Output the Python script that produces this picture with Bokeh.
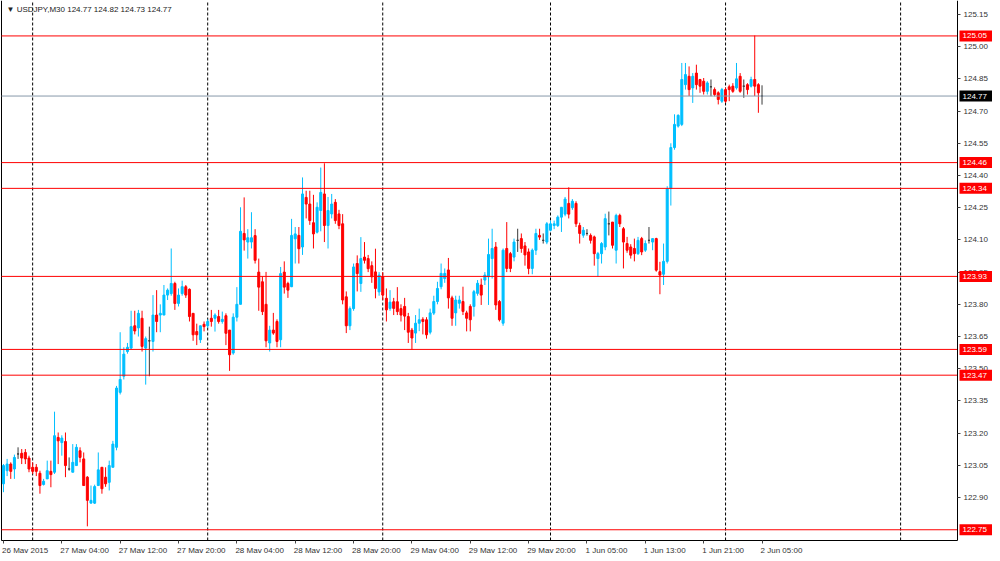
from bokeh.plotting import figure
from bokeh.models import (Range1d, LinearAxis, FixedTicker, NumeralTickFormatter,
                          ColumnDataSource)
from bokeh.core.properties import value
from bokeh.embed import file_html
from bokeh.resources import INLINE

# ---------------- data (USDJPY, M30) ----------------
opens = [
    122.964, 123.025, 123.056, 123.033, 123.103, 123.106, 123.110, 123.084, 123.041, 123.041,
    123.013, 122.961, 122.987, 123.022, 123.018, 123.180, 123.156, 123.161, 123.033, 123.018,
    123.049, 123.118, 123.080, 122.995, 122.874, 122.874, 122.956, 123.041, 122.995, 122.971,
    123.041, 123.134, 123.390, 123.465, 123.580, 123.596, 123.700, 123.690, 123.735, 123.596,
    123.630, 123.627, 123.750, 123.750, 123.750, 123.843, 123.850, 123.897, 123.804, 123.850,
    123.882, 123.870, 123.758, 123.673, 123.635, 123.707, 123.700, 123.735, 123.735, 123.743,
    123.720, 123.747, 123.680, 123.573, 123.740, 123.800, 124.130, 124.090, 124.090, 124.120,
    123.950, 123.905, 123.800, 123.620, 123.680, 123.720, 123.635, 123.950, 123.897, 123.882,
    124.105, 124.121, 124.067, 124.298, 124.267, 124.180, 124.136, 124.237, 124.314, 124.167,
    124.221, 124.275, 124.221, 124.175, 123.835, 123.700, 123.780, 123.990, 123.897, 124.020,
    124.013, 123.980, 123.951, 123.858, 123.928, 123.828, 123.781, 123.812, 123.812, 123.780,
    123.790, 123.743, 123.680, 123.666, 123.712, 123.730, 123.728, 123.670, 123.759, 123.813,
    123.882, 123.920, 123.960, 123.830, 123.760, 123.805, 123.813, 123.760, 123.790, 123.790,
    123.851, 123.890, 123.913, 123.928, 124.013, 124.067, 123.813, 123.712, 124.060, 124.036,
    124.020, 124.098, 124.106, 124.072, 124.044, 123.967, 124.052, 124.121, 124.098, 124.090,
    124.145, 124.167, 124.167, 124.206, 124.220, 124.270, 124.250, 124.270, 124.167, 124.122,
    124.130, 124.121, 124.114, 124.013, 124.036, 124.067, 124.175, 124.183, 124.052, 124.214,
    124.152, 124.083, 124.067, 124.060, 124.036, 124.106, 124.052, 124.098, 124.090, 124.106,
    123.952, 123.940, 124.000, 124.340, 124.530, 124.630, 124.638, 124.823, 124.862, 124.808,
    124.877, 124.847, 124.839, 124.792, 124.813, 124.800, 124.785, 124.746, 124.800, 124.813,
    124.816, 124.808, 124.862, 124.816, 124.823, 124.816, 124.847, 124.823, 124.770,
]
highs = [
    123.056, 123.080, 123.064, 123.100, 123.134, 123.126, 123.126, 123.095, 123.064, 123.056,
    123.025, 122.987, 123.072, 123.072, 123.300, 123.203, 123.190, 123.203, 123.087, 123.149,
    123.149, 123.134, 123.110, 123.000, 122.956, 122.960, 123.110, 123.041, 123.041, 123.072,
    123.164, 123.420, 123.670, 123.600, 123.620, 123.770, 123.770, 123.774, 123.770, 123.650,
    123.696, 123.843, 123.866, 123.800, 123.890, 123.874, 124.060, 123.905, 123.874, 123.910,
    123.890, 123.874, 123.758, 123.710, 123.700, 123.720, 123.730, 123.774, 123.758, 123.774,
    123.766, 123.758, 123.680, 123.758, 123.880, 124.252, 124.298, 124.150, 124.229, 124.150,
    124.013, 123.930, 123.951, 123.700, 123.760, 123.730, 123.974, 124.000, 123.905, 124.198,
    124.160, 124.160, 124.391, 124.329, 124.329, 124.310, 124.275, 124.437, 124.457, 124.300,
    124.314, 124.290, 124.240, 124.220, 123.860, 123.790, 123.990, 124.028, 124.113, 124.090,
    124.030, 124.000, 124.059, 123.950, 123.950, 123.874, 123.866, 123.830, 123.880, 123.800,
    123.830, 123.760, 123.690, 123.750, 123.780, 123.740, 123.740, 123.780, 123.840, 123.905,
    123.990, 123.967, 124.016, 123.840, 123.840, 123.840, 123.882, 123.770, 123.800, 123.867,
    123.913, 123.920, 123.950, 124.106, 124.152, 124.090, 123.820, 124.060, 124.183, 124.044,
    124.106, 124.152, 124.130, 124.090, 124.060, 124.060, 124.152, 124.152, 124.130, 124.183,
    124.190, 124.190, 124.214, 124.252, 124.300, 124.345, 124.290, 124.280, 124.180, 124.160,
    124.150, 124.130, 124.120, 124.044, 124.090, 124.222, 124.232, 124.183, 124.222, 124.222,
    124.160, 124.114, 124.080, 124.106, 124.114, 124.114, 124.098, 124.160, 124.106, 124.110,
    123.998, 124.083, 124.350, 124.550, 124.685, 124.685, 124.924, 124.924, 124.908, 124.877,
    124.916, 124.850, 124.854, 124.839, 124.847, 124.810, 124.792, 124.808, 124.810, 124.823,
    124.830, 124.924, 124.877, 124.847, 124.830, 124.860, 125.052, 124.830, 124.820,
]
lows = [
    122.925, 123.000, 122.987, 122.987, 123.080, 123.056, 123.056, 123.018, 123.010, 123.000,
    122.918, 122.956, 122.987, 122.948, 123.010, 123.056, 123.095, 122.995, 123.025, 123.018,
    123.049, 123.064, 122.956, 122.766, 122.874, 122.870, 122.956, 122.918, 122.950, 122.933,
    123.041, 123.120, 123.380, 123.450, 123.570, 123.590, 123.660, 123.650, 123.580, 123.426,
    123.465, 123.580, 123.670, 123.670, 123.750, 123.820, 123.840, 123.774, 123.790, 123.840,
    123.830, 123.720, 123.630, 123.610, 123.620, 123.674, 123.690, 123.696, 123.673, 123.710,
    123.710, 123.610, 123.490, 123.565, 123.720, 123.800, 124.050, 124.013, 124.060, 123.990,
    123.770, 123.750, 123.600, 123.580, 123.658, 123.600, 123.600, 123.850, 123.830, 123.880,
    123.990, 123.990, 124.030, 124.200, 124.170, 124.060, 124.130, 124.140, 124.090, 124.060,
    124.200, 124.175, 124.150, 123.800, 123.666, 123.680, 123.770, 123.860, 123.858, 123.990,
    123.950, 123.900, 123.828, 123.840, 123.820, 123.720, 123.770, 123.750, 123.750, 123.720,
    123.680, 123.620, 123.588, 123.620, 123.675, 123.660, 123.640, 123.660, 123.750, 123.800,
    123.870, 123.900, 123.780, 123.700, 123.700, 123.780, 123.750, 123.674, 123.674, 123.743,
    123.840, 123.797, 123.890, 123.797, 123.920, 123.774, 123.720, 123.700, 123.950, 123.950,
    124.000, 124.044, 124.040, 123.980, 123.940, 123.940, 124.030, 124.100, 124.083, 124.080,
    124.140, 124.150, 124.160, 124.137, 124.210, 124.200, 124.240, 124.160, 124.083, 124.110,
    124.120, 124.083, 123.980, 123.928, 123.990, 124.052, 124.121, 124.060, 123.990, 124.160,
    123.967, 124.040, 124.013, 124.000, 124.030, 124.029, 124.044, 124.083, 124.052, 123.952,
    123.847, 123.890, 123.990, 124.260, 124.520, 124.623, 124.630, 124.800, 124.770, 124.738,
    124.800, 124.785, 124.777, 124.777, 124.769, 124.769, 124.731, 124.738, 124.738, 124.746,
    124.785, 124.800, 124.785, 124.762, 124.777, 124.810, 124.770, 124.692, 124.730,
]
closes = [
    123.049, 123.056, 123.022, 123.087, 123.103, 123.084, 123.080, 123.033, 123.022, 123.022,
    122.956, 122.976, 123.025, 123.007, 123.188, 123.164, 123.177, 123.049, 123.033, 123.064,
    123.134, 123.087, 122.956, 122.887, 122.887, 122.951, 123.029, 122.941, 122.964, 123.049,
    123.149, 123.410, 123.450, 123.568, 123.600, 123.696, 123.676, 123.758, 123.604, 123.640,
    123.630, 123.750, 123.720, 123.758, 123.843, 123.866, 123.897, 123.804, 123.843, 123.882,
    123.843, 123.743, 123.658, 123.658, 123.700, 123.696, 123.720, 123.720, 123.750, 123.720,
    123.730, 123.665, 123.565, 123.740, 123.800, 124.140, 124.100, 124.110, 124.110, 124.005,
    123.880, 123.766, 123.630, 123.680, 123.666, 123.627, 123.943, 123.880, 123.866, 124.121,
    124.128, 124.059, 124.314, 124.267, 124.190, 124.128, 124.252, 124.321, 124.167, 124.237,
    124.267, 124.190, 124.167, 123.820, 123.700, 123.780, 123.974, 123.943, 124.013, 124.005,
    123.966, 123.928, 123.874, 123.936, 123.843, 123.774, 123.810, 123.781, 123.766, 123.750,
    123.745, 123.670, 123.643, 123.712, 123.728, 123.720, 123.658, 123.760, 123.813, 123.874,
    123.944, 123.944, 123.830, 123.735, 123.820, 123.820, 123.767, 123.735, 123.728, 123.859,
    123.898, 123.843, 123.936, 124.032, 124.060, 123.797, 123.728, 124.052, 123.967, 123.967,
    124.090, 124.098, 124.060, 124.030, 123.967, 124.052, 124.130, 124.113, 124.098, 124.175,
    124.175, 124.175, 124.206, 124.252, 124.290, 124.220, 124.280, 124.175, 124.130, 124.145,
    124.130, 124.098, 124.036, 124.036, 124.083, 124.199, 124.175, 124.075, 124.214, 124.175,
    124.090, 124.052, 124.029, 124.036, 124.098, 124.044, 124.083, 124.098, 124.106, 123.959,
    123.936, 124.000, 124.337, 124.530, 124.638, 124.680, 124.847, 124.870, 124.800, 124.862,
    124.823, 124.816, 124.792, 124.831, 124.813, 124.777, 124.754, 124.800, 124.746, 124.800,
    124.792, 124.850, 124.792, 124.816, 124.800, 124.847, 124.816, 124.785, 124.770,
]

levels = [125.05, 124.46, 124.34, 123.93, 123.59, 123.47, 122.75]
last_price = 124.77
x_tick_bars = [0, 16, 32, 48, 64, 80, 96, 112, 128, 144, 160, 176, 192, 208]
x_tick_labels = ["26 May 2015", "27 May 04:00", "27 May 12:00", "27 May 20:00",
                 "28 May 04:00", "28 May 12:00", "28 May 20:00", "29 May 04:00",
                 "29 May 12:00", "29 May 20:00", "1 Jun 05:00", "1 Jun 13:00",
                 "1 Jun 21:00", "2 Jun 05:00"]
day_separators = [8, 56, 104, 150, 198, 246]
y_ticks = [122.90, 123.05, 123.20, 123.35, 123.50, 123.65, 123.80, 123.95,
           124.10, 124.25, 124.40, 124.55, 124.70, 124.85, 125.00, 125.15]
title_text = "\u25bc USDJPY,M30  124.77 124.82 124.73 124.77"

# ---------------- styling / layout ----------------
UP, DOWN, DOJI = "#00BFFF", "#FF0000", "#3A3A3A"
FONT = "Liberation Sans"
W, H = 992, 553
CHART_L, CHART_R, CHART_T, CHART_B = 1, 957, 0, 540   # chart pane in pixels
XB0, XB1 = -0.54, 261.6                               # bar range of the pane
YP0, YP1 = 122.70, 125.215                            # price range of the pane
ppx = (CHART_R - CHART_L) / (XB1 - XB0)
ppy = (CHART_B - CHART_T) / (YP1 - YP0)


def px_x(px):
    return XB0 + (px - CHART_L) / ppx


def py_y(py):
    return YP1 - (py - CHART_T) / ppy


idx = list(range(len(closes)))
colors = [UP if c > o else (DOWN if c < o else DOJI) for o, c in zip(opens, closes)]
src = ColumnDataSource(dict(
    x=idx, o=opens, h=highs, l=lows, c=closes, col=colors,
    top=[max(o, c) for o, c in zip(opens, closes)],
    bot=[min(o, c) for o, c in zip(opens, closes)],
))

p = figure(width=W, height=H, x_range=Range1d(px_x(0), px_x(W)),
           y_range=Range1d(py_y(H), py_y(0)),
           output_backend="svg", toolbar_location=None,
           x_axis_location=None, y_axis_location=None,
           min_border_left=0, min_border_right=0, min_border_top=0, min_border_bottom=0,
           background_fill_color="white", border_fill_color="white",
           outline_line_color=None)
p.grid.grid_line_color = None

# price axis on the right edge of the pane
yax = LinearAxis(ticker=FixedTicker(ticks=y_ticks), formatter=NumeralTickFormatter(format="0.00"),
                 fixed_location=XB1, bounds=(YP0, YP1),
                 major_tick_in=0, major_tick_out=3, minor_tick_line_color=None,
                 axis_line_color="black", major_tick_line_color="#444444",
                 major_label_text_font_size="8px", major_label_text_font=FONT,
                 major_label_text_color="#333333", major_label_standoff=3)
p.add_layout(yax, "right")

# time axis on the bottom edge of the pane (labels drawn left-aligned below)
xax = LinearAxis(ticker=FixedTicker(ticks=x_tick_bars), fixed_location=YP0, bounds=(XB0, XB1),
                 major_tick_in=0, major_tick_out=3, minor_tick_line_color=None,
                 axis_line_color="black", major_tick_line_color="#444444",
                 major_label_text_font_size="0px", major_label_text_alpha=0,
                 major_label_standoff=0)
p.add_layout(xax, "below")

# left border of the pane
p.segment(x0=[XB0], y0=[YP0], x1=[XB0], y1=[YP1], line_color="black", line_width=1)

# period separators
p.segment(x0=day_separators, y0=[YP0] * len(day_separators),
          x1=day_separators, y1=[YP1] * len(day_separators),
          line_color="black", line_dash="3 2", line_width=1, level="underlay")

# candles
p.segment(x0="x", y0="l", x1="x", y1="h", source=src, line_color="col", line_width=1)
p.vbar(x="x", width=0.55, top="top", bottom="bot", source=src,
       fill_color="col", line_color="col", line_width=1)

# horizontal levels and bid line
p.segment(x0=[XB0] * len(levels), y0=levels, x1=[XB1] * len(levels), y1=levels,
          line_color="#FF0000", line_width=1)
p.segment(x0=[XB0], y0=[last_price], x1=[XB1], y1=[last_price],
          line_color="#8899AA", line_width=1)

# price boxes on the scale
box_l, box_r = px_x(CHART_R + 2), px_x(CHART_R + 35)
box_h = 11 / ppy
box_vals = levels + [last_price]
box_cols = ["#FF0000"] * len(levels) + ["#000000"]
p.quad(left=[box_l] * len(box_vals), right=[box_r] * len(box_vals),
       bottom=[v - box_h / 2 for v in box_vals], top=[v + box_h / 2 for v in box_vals],
       fill_color=box_cols, line_color=None, level="annotation")
p.text(x=[px_x(CHART_R + 5)] * len(box_vals), y=box_vals,
       text=[f"{v:.2f}" for v in box_vals], text_color="white",
       text_font=value(FONT), text_font_size=value("8px"),
       text_align="left", text_baseline="middle", level="annotation")

# time labels, left-aligned at their ticks
p.text(x=[t - 0.4 for t in x_tick_bars], y=[py_y(CHART_B + 5)] * len(x_tick_bars),
       text=x_tick_labels, text_color="#333333", text_font=value(FONT),
       text_font_size=value("8px"), text_align="left", text_baseline="top")

# symbol caption
p.text(x=[px_x(6)], y=[py_y(4)], text=[title_text], text_color="#222222",
       text_font=value(FONT), text_font_size=value("8px"),
       text_align="left", text_baseline="top", level="annotation")

open("out.html", "w").write(file_html(p, INLINE))
